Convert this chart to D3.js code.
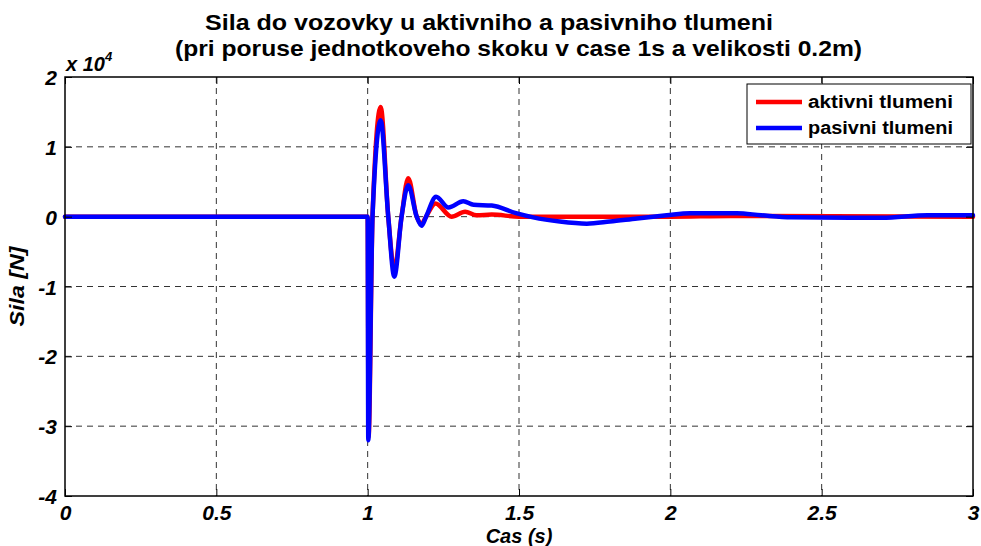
<!DOCTYPE html>
<html lang="en">
<head>
	<meta charset="UTF-8">
	<title>Sila do vozovky</title>
	<script src="https://cdn.jsdelivr.net/npm/d3@7"></script>
	<style>
		*{
			margin: 0px;
		}
		body{
			background: #fff;
			overflow: hidden;
		}
		text{
			font-family: "Liberation Sans", Arial, sans-serif;
			font-weight: bold;
			fill: #000;
		}
		.tick text{
			font-style: italic;
		}
		.grid line{
			stroke: #333;
			stroke-width: 1;
			stroke-dasharray: 6,5;
		}
		.series{
			fill: none;
			stroke-width: 4.5;
			stroke-linejoin: round;
			stroke-linecap: round;
		}
	</style>
</head>
<body>
	<svg id="svg"></svg>
	<script>
		// cas [s], sila [x 10^4 N]
		var aktivni = [
			[0, 0], [1.0, 0], [1.003, -3.15], [1.016, 0], [1.043, 1.57], [1.068, 0],
			[1.088, -0.76], [1.112, 0], [1.134, 0.55], [1.162, 0], [1.178, -0.1],
			[1.193, 0], [1.224, 0.19], [1.277, 0.0], [1.322, 0.07], [1.36, 0.02],
			[1.41, 0.03], [1.5, 0], [2.0, 0], [2.2, 0.01], [3.0, 0]
		];
		var pasivni = [
			[0, 0], [1.0, 0], [1.002, -3.2], [1.016, 0], [1.043, 1.38], [1.068, 0],
			[1.088, -0.86], [1.112, 0], [1.134, 0.45], [1.162, 0], [1.178, -0.13],
			[1.193, 0], [1.226, 0.285], [1.267, 0.13], [1.316, 0.22], [1.35, 0.17],
			[1.41, 0.16], [1.49, 0.05], [1.547, -0.01], [1.635, -0.07], [1.724, -0.1],
			[1.80, -0.07], [1.89, -0.025], [1.988, 0.02], [2.065, 0.05], [2.22, 0.05],
			[2.30, 0.02], [2.4, -0.01], [2.7, -0.015], [2.85, 0.02], [3.0, 0.02]
		];
		var xTicks = [0, 0.5, 1, 1.5, 2, 2.5, 3];
		var yTicks = [-4, -3, -2, -1, 0, 1, 2];
		var legendNames = ["aktivni tlumeni", "pasivni tlumeni"];
		var colors = ["#ff0000", "#0000ff"];

		var w = 981, h = 546,
			margin = {left: 65, top: 77, right: 8, bottom: 50},
			svg = d3.select("#svg").attr("width", w).attr("height", h);

		var x = d3.scaleLinear().domain([0, 3]).range([margin.left, w - margin.right]);
		var y = d3.scaleLinear().domain([-4, 2]).range([h - margin.bottom, margin.top]);

		// matlab style cisla (obycejny spojovnik jako minus)
		var fmt = function(d) { return String(d); };

		// mrizka
		var grid = svg.append("g").attr("class", "grid");
		grid.selectAll(".gx").data(xTicks.slice(1, -1)).enter().append("line")
			.attr("x1", function(d) { return x(d); }).attr("x2", function(d) { return x(d); })
			.attr("y1", y(2)).attr("y2", y(-4));
		grid.selectAll(".gy").data(yTicks.slice(1, -1)).enter().append("line")
			.attr("y1", function(d) { return y(d); }).attr("y2", function(d) { return y(d); })
			.attr("x1", x(0)).attr("x2", x(3));

		// krivky
		var line = d3.line()
			.x(function(d) { return x(d[0]); })
			.y(function(d) { return y(d[1]); })
			.curve(d3.curveMonotoneX);
		[aktivni, pasivni].forEach(function(s, i) {
			svg.append("path").attr("class", "series")
				.attr("stroke", colors[i])
				.attr("d", line(s));
		});

		// osy
		svg.append("g")
			.attr("transform", "translate(0," + y(-4) + ")")
			.call(d3.axisBottom(x).tickValues(xTicks).tickSize(-7).tickPadding(9).tickFormat(fmt))
			.call(function(g) {
				g.select(".domain").remove();
				g.selectAll("line").attr("stroke", "#000");
				g.selectAll("text").style("font-size", "21px");
			});
		svg.append("g")
			.attr("transform", "translate(" + x(0) + ",0)")
			.call(d3.axisLeft(y).tickValues(yTicks).tickSize(-7).tickPadding(8).tickFormat(fmt))
			.call(function(g) {
				g.select(".domain").remove();
				g.selectAll("line").attr("stroke", "#000");
				g.selectAll("text").style("font-size", "21px").attr("dy", "0.36em");
			});
		svg.append("g")
			.attr("transform", "translate(0," + y(2) + ")")
			.call(d3.axisTop(x).tickValues(xTicks).tickSize(-7).tickFormat(""))
			.call(function(g) { g.select(".domain").remove(); g.selectAll("line").attr("stroke", "#000"); });
		svg.append("g")
			.attr("transform", "translate(" + x(3) + ",0)")
			.call(d3.axisRight(y).tickValues(yTicks).tickSize(-7).tickFormat(""))
			.call(function(g) { g.select(".domain").remove(); g.selectAll("line").attr("stroke", "#000"); });

		svg.append("rect")
			.attr("x", x(0)).attr("y", y(2))
			.attr("width", x(3) - x(0)).attr("height", y(-4) - y(2))
			.attr("fill", "none").attr("stroke", "#000").attr("stroke-width", 1.5);

		// exponent
		var ex = svg.append("text").attr("x", 66).attr("y", 71)
			.style("font-size", "20px").style("font-style", "italic");
		ex.append("tspan").text("x 10");
		ex.append("tspan").attr("dy", -10).style("font-size", "13px").text("4");

		// popisky
		svg.append("text").attr("x", 205).attr("y", 30)
			.style("font-size", "22px")
			.attr("textLength", 568).attr("lengthAdjust", "spacingAndGlyphs")
			.text("Sila do vozovky u aktivniho a pasivniho tlumeni");
		svg.append("text").attr("x", 175).attr("y", 56)
			.style("font-size", "22px")
			.attr("textLength", 687).attr("lengthAdjust", "spacingAndGlyphs")
			.text("(pri poruse jednotkoveho skoku v case 1s a velikosti 0.2m)");

		svg.append("text").attr("x", (x(0) + x(3)) / 2).attr("y", 543)
			.attr("text-anchor", "middle")
			.style("font-size", "20px").style("font-style", "italic")
			.text("Cas (s)");
		svg.append("text")
			.attr("transform", "translate(24," + ((y(2) + y(-4)) / 2) + ") rotate(-90)")
			.attr("text-anchor", "middle")
			.style("font-size", "20px").style("font-style", "italic")
			.attr("textLength", 80).attr("lengthAdjust", "spacingAndGlyphs")
			.text("Sila [N]");

		// legenda
		var lg = svg.append("g").attr("transform", "translate(747,84)");
		lg.append("rect").attr("width", 224).attr("height", 60)
			.attr("fill", "#fff").attr("stroke", "#000").attr("stroke-width", 1);
		legendNames.forEach(function(n, i) {
			var yy = 18 + i * 26;
			lg.append("line").attr("x1", 9).attr("x2", 55).attr("y1", yy).attr("y2", yy)
				.attr("stroke", colors[i]).attr("stroke-width", 4.5);
			lg.append("text").attr("x", 61).attr("y", yy + 6)
				.style("font-size", "18px")
				.attr("textLength", 145).attr("lengthAdjust", "spacingAndGlyphs")
				.text(n);
		});
	</script>
</body>
</html>
